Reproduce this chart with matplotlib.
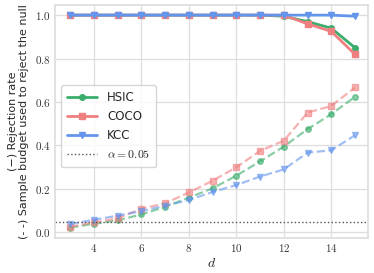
import numpy as np
import matplotlib
matplotlib.use("Agg")
import matplotlib.pyplot as plt
import seaborn as sns

sns.set_style("whitegrid")
plt.rcParams['font.family'] = ['DejaVu Sans']
plt.rcParams['mathtext.fontset'] = 'cm'

d = [3, 4, 5, 6, 7, 8, 9, 10, 11, 12, 13, 14, 15]

# taux de rejet (trait plein)
rej_hsic = [1.0, 1.0, 1.0, 1.0, 1.0, 1.0, 1.0, 1.0, 1.0, 0.995, 0.97, 0.94, 0.85]
rej_coco = [1.0, 1.0, 1.0, 1.0, 1.0, 1.0, 1.0, 1.0, 1.0, 1.0, 0.96, 0.925, 0.82]
rej_kcc = [1.0, 1.0, 1.0, 1.0, 1.0, 1.0, 1.0, 1.0, 1.0, 1.0, 1.0, 1.0, 0.995]

# budget d'echantillons (tirets)
bud_hsic = [0.022, 0.040, 0.055, 0.083, 0.118, 0.160, 0.203, 0.261, 0.327, 0.395, 0.475, 0.544, 0.624]
bud_coco = [0.026, 0.046, 0.065, 0.109, 0.134, 0.184, 0.238, 0.300, 0.375, 0.422, 0.551, 0.582, 0.667]
bud_kcc = [0.038, 0.058, 0.077, 0.098, 0.123, 0.149, 0.186, 0.218, 0.257, 0.290, 0.367, 0.378, 0.447]

alpha = 0.05

c_hsic = '#3aad6b'
c_coco = '#f07f7f'
c_kcc = '#6495ed'

fig = plt.figure(figsize=(3.74, 2.73), dpi=100)
ax = fig.add_axes([0.147, 0.128, 0.837, 0.854])

ax.plot(d, rej_hsic, color=c_hsic, marker='o', lw=2, ms=4, label='HSIC', zorder=3)
ax.plot(d, rej_coco, color=c_coco, marker='s', lw=2, ms=4, label='COCO', zorder=3)
ax.plot(d, rej_kcc, color=c_kcc, marker='v', lw=2, ms=4, label='KCC', zorder=4)

ax.plot(d, bud_hsic, color=c_hsic, marker='o', lw=1.6, ms=4, ls='--', alpha=0.6)
ax.plot(d, bud_coco, color=c_coco, marker='s', lw=1.6, ms=4, ls='--', alpha=0.6)
ax.plot(d, bud_kcc, color=c_kcc, marker='v', lw=1.6, ms=4, ls='--', alpha=0.6)

ax.axhline(alpha, color='#555555', ls=':', lw=1, label=r'$\alpha = 0.05$')

ax.set_xlim(2.355, 15.55)
ax.set_ylim(-0.026, 1.047)
xt = [4, 6, 8, 10, 12, 14]
yt = [0.0, 0.2, 0.4, 0.6, 0.8, 1.0]
ax.set_xticks(xt)
ax.set_xticklabels(['$%d$' % v for v in xt], fontsize=8)
ax.set_yticks(yt)
ax.set_yticklabels(['$%.1f$' % v for v in yt], fontsize=8)
ax.tick_params(axis='both', length=0, pad=3, colors='#333333')

ax.set_xlabel('$d$', fontsize=10, labelpad=1)
ax.set_ylabel('(−) Rejection rate\n(- -) Sample budget used to reject the null', fontsize=8, labelpad=4)

ax.grid(True, color='#dddddd', lw=0.9)
for s in ax.spines.values():
    s.set_color('#dddddd')
    s.set_linewidth(1.2)

ax.legend(loc='center left', bbox_to_anchor=(0.0, 0.48), fontsize=8.5, frameon=True,
          facecolor='white', edgecolor='#cccccc', handlelength=2.6, borderpad=0.5)

fig.savefig('out.png', dpi=100)
